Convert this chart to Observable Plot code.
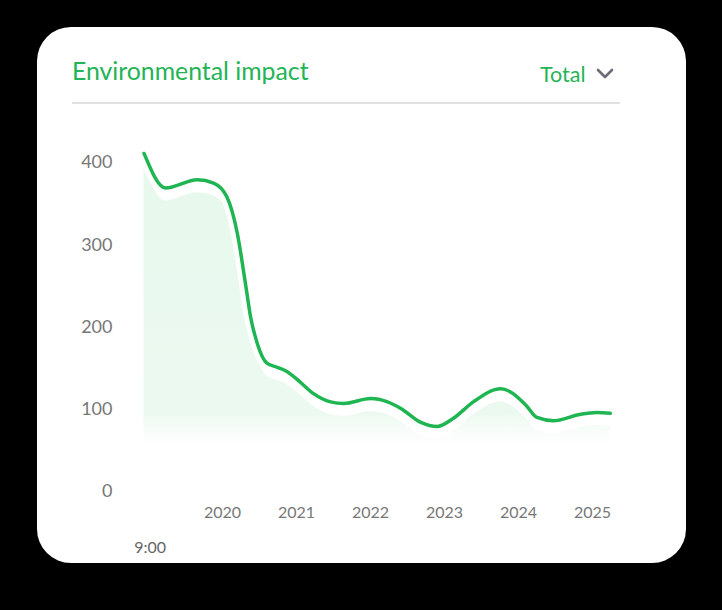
<!DOCTYPE html>
<html>
<head>
<meta charset="utf-8">
<script src="https://cdn.jsdelivr.net/npm/d3@7"></script>
<script src="https://cdn.jsdelivr.net/npm/@observablehq/plot@0.6"></script>
<style>
  html, body { margin: 0; padding: 0; }
  body { background: #000; width: 722px; height: 610px; overflow: hidden; position: relative; font-family: Lato, "Open Sans", sans-serif; }
  #card { position: absolute; left: 37px; top: 27px; width: 649px; height: 536px; background: #fff; border-radius: 34px; }
  #title { position: absolute; left: 72px; top: 58px; font-size: 24.8px; line-height: 25px; color: #22b455; white-space: nowrap; }
  #selector { position: absolute; left: 540px; top: 64px; font-size: 21.5px; line-height: 21px; color: #22b455; white-space: nowrap; }
  #chev { position: absolute; left: 594px; top: 66px; }
  #rule { position: absolute; left: 72px; top: 102px; width: 548px; height: 1.5px; background: #e1e1e1; }
  #chart { position: absolute; left: 0; top: 120px; }
</style>
</head>
<body>
<div id="card"></div>
<div id="title"></div>
<div id="selector"></div>
<svg id="chev" width="22" height="16"><polyline points="4,4 11,11 18,4" fill="none" stroke="#6c6c78" stroke-width="2.6" stroke-linecap="round" stroke-linejoin="round"/></svg>
<div id="rule"></div>
<div id="chart"></div>
<script>
// ---- data ----
const titleText = "Environmental impact";
const selectorText = "Total";
const years = [2018.94, 2019.23, 2019.66, 2019.88, 2020.06, 2020.20, 2020.31, 2020.38, 2020.47, 2020.60,
               2020.74, 2020.87, 2021.05, 2021.23, 2021.46, 2021.64, 2022.00, 2022.23, 2022.41, 2022.68,
               2022.90, 2023.12, 2023.39, 2023.76, 2024.10, 2024.25, 2024.47, 2024.84, 2025.06, 2025.24];
const impact = [411, 369, 379, 375, 358, 314, 253, 212, 180, 156,
                151, 146, 133, 119, 109, 107, 113, 109, 101, 84,
                79, 89, 109, 125, 105, 90, 86, 94, 96, 95];
const yTicks = [0, 100, 200, 300, 400];
const xTicks = [2020, 2021, 2022, 2023, 2024, 2025];
const startLabel = ["9:00"];

document.getElementById("title").textContent = titleText;
document.getElementById("selector").textContent = selectorText;

const data = years.map((x, i) => ({x, y: impact[i]}));
const green = "#1fb552";
const curve = "monotone-x";

const chart = Plot.plot({
  width: 690,
  height: 440,
  marginLeft: 144,
  marginRight: 80,
  marginTop: 42,
  marginBottom: 69,
  x: {domain: [2020, 2025], range: [222, 592]},
  y: {domain: [0, 400], range: [371, 42]},
  style: {fontFamily: "Lato, 'Open Sans', sans-serif", background: "transparent", color: "#777777", overflow: "visible"},
  marks: [
    Plot.areaY(data, {x: "x", y: "y", dy: 13, curve, fill: "url(#areaGrad)"}),
    Plot.lineY(data, {x: "x", y: "y", curve, stroke: "#ffffff", strokeWidth: 13}),
    Plot.lineY(data, {x: "x", y: "y", curve, stroke: green, strokeWidth: 3.5}),
    Plot.axisY({ticks: yTicks, tickSize: 0, tickPadding: 32, fontSize: 18, label: null}),
    Plot.axisX({ticks: xTicks, tickSize: 0, tickPadding: 15, fontSize: 16, tickFormat: d => String(d), label: null}),
    Plot.text(startLabel, {x: () => years[0], text: d => d, frameAnchor: "bottom", dy: 61, dx: 6, fontSize: 16, fill: "#666"})
  ]
});

// gradient for the area fill
const ys = chart.scale("y");
const ns = "http://www.w3.org/2000/svg";
const defs = document.createElementNS(ns, "defs");
const grad = document.createElementNS(ns, "linearGradient");
grad.setAttribute("id", "areaGrad");
grad.setAttribute("gradientUnits", "userSpaceOnUse");
grad.setAttribute("x1", 0); grad.setAttribute("x2", 0);
const gTop = ys.apply(400), gMid = ys.apply(110), gEnd = ys.apply(60);
grad.setAttribute("y1", gTop); grad.setAttribute("y2", gEnd);
[[0, "#e7f8ec", 1], [(gMid - gTop) / (gEnd - gTop), "#ecf9f0", 1], [1, "#ffffff", 0]].forEach(([o, c, op]) => {
  const s = document.createElementNS(ns, "stop");
  s.setAttribute("offset", o); s.setAttribute("stop-color", c); s.setAttribute("stop-opacity", op);
  grad.appendChild(s);
});
defs.appendChild(grad);
chart.insertBefore(defs, chart.firstChild);

document.getElementById("chart").appendChild(chart);
</script>
</body>
</html>
